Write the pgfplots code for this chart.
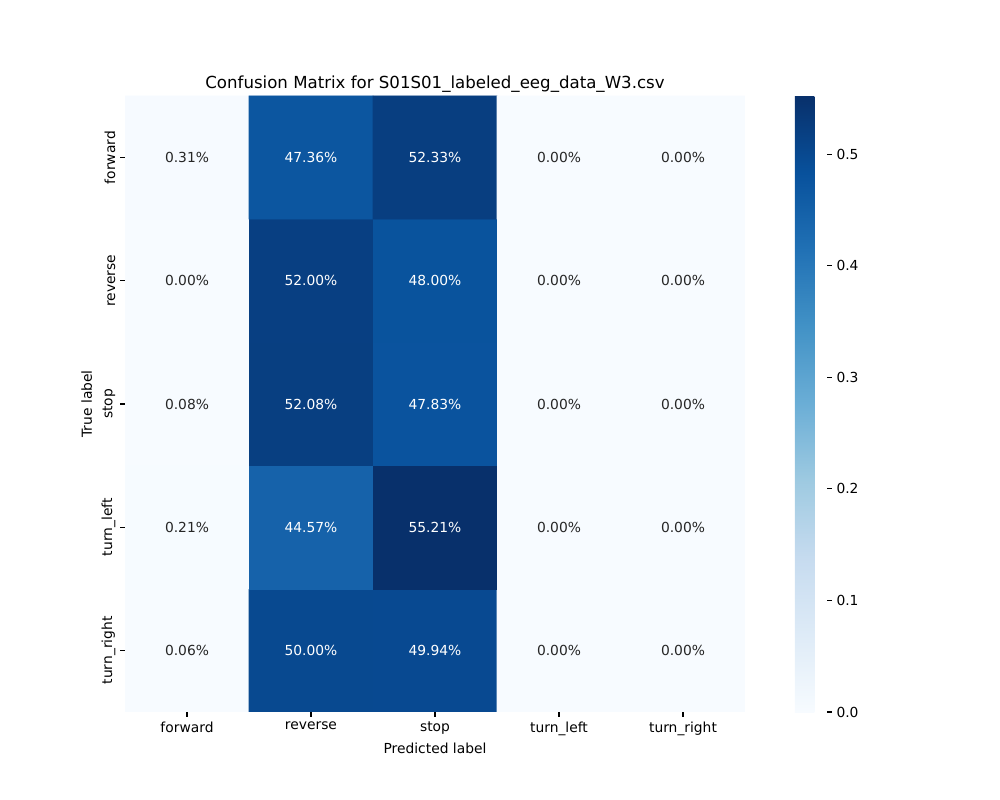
\documentclass[border=0pt]{standalone}
\usepackage{fontspec}
\setmainfont{DejaVu Sans}
\usepackage{pgfplots}
\usepackage{pgfplotstable}
\pgfplotsset{compat=1.18}

% matplotlib "Blues"
\pgfplotsset{colormap={blues}{rgb255=(247,251,255) rgb255=(222,235,247)
  rgb255=(198,219,239) rgb255=(158,202,225) rgb255=(107,174,214)
  rgb255=(66,146,198) rgb255=(33,113,181) rgb255=(8,81,156) rgb255=(8,48,107)}}
\definecolor{textdark}{RGB}{38,38,38}

% y = 0 is turn_right (bottom row), y = 4 is forward (top row)
\pgfplotstableread{
x y c
0 0 0.0006
1 0 0.5000
2 0 0.4994
3 0 0
4 0 0
0 1 0.0021
1 1 0.4457
2 1 0.5521
3 1 0
4 1 0
0 2 0.0008
1 2 0.5208
2 2 0.4783
3 2 0
4 2 0
0 3 0
1 3 0.5200
2 3 0.4800
3 3 0
4 3 0
0 4 0.0031
1 4 0.4736
2 4 0.5233
3 4 0
4 4 0
}\cmtable

\begin{document}
\begin{tikzpicture}
\path[use as bounding box] (0,0) rectangle (10in,8in);
\begin{axis}[
  at={(1.25in,0.88in)}, anchor=south west,
  scale only axis, width=6.2in, height=6.16in,
  xmin=-0.5, xmax=4.5, ymin=-0.5, ymax=4.5,
  axis line style={draw=none},
  xtick={0,1,2,3,4}, ytick={0,1,2,3,4},
  xticklabels={forward,reverse,stop,turn\_left,turn\_right},
  yticklabels={turn\_right,turn\_left,stop,reverse,forward},
  yticklabel style={rotate=90, anchor=south},
  tick align=outside, xtick pos=bottom, ytick pos=left,
  major tick length=3.5pt, tick style={black, line width=0.8pt},
  ticklabel style={font=\fontsize{10}{12}\selectfont},
  label style={font=\fontsize{10}{12}\selectfont},
  xlabel={Predicted label}, ylabel={True label},
  xlabel style={yshift=1.5pt},
  title={Confusion Matrix for S01S01\_labeled\_eeg\_data\_W3.csv},
  title style={font=\fontsize{12}{14}\selectfont, yshift=-7pt},
  /pgf/number format/assume math mode=true,
  colormap name=blues, point meta min=0, point meta max=0.5521,
  colorbar,
  colorbar style={
    at={(parent axis.north east)}, anchor=north west, xshift=0.38in,
    width=0.32in,
    axis line style={draw=none},
    ytick={0,0.1,0.2,0.3,0.4,0.5},
    ytick pos=right, tick align=outside,
    major tick length=3.5pt, tick style={black, line width=0.8pt},
    yticklabel style={font=\fontsize{10}{12}\selectfont,
      /pgf/number format/.cd, fixed, fixed zerofill, precision=1, assume math mode=true},
  },
]
\addplot[matrix plot*, mesh/cols=5, point meta=explicit]
  table[x=x, y=y, meta=c] {\cmtable};

\addplot[only marks, mark=none, point meta=\thisrow{c}*100,
  restrict expr to domain={\thisrow{c}}{-1:0.3},
  nodes near coords={\pgfmathprintnumber[fixed,fixed zerofill,precision=2,assume math mode=true]{\pgfplotspointmeta}\%},
  nodes near coords align=center,
  every node near coord/.append style={text=textdark, font=\fontsize{10}{12}\selectfont}]
  table[x=x, y=y] {\cmtable};

\addplot[only marks, mark=none, point meta=\thisrow{c}*100,
  restrict expr to domain={\thisrow{c}}{0.3:1},
  nodes near coords={\pgfmathprintnumber[fixed,fixed zerofill,precision=2,assume math mode=true]{\pgfplotspointmeta}\%},
  nodes near coords align=center,
  every node near coord/.append style={text=white, font=\fontsize{10}{12}\selectfont}]
  table[x=x, y=y] {\cmtable};
\end{axis}
\end{tikzpicture}
\end{document}
